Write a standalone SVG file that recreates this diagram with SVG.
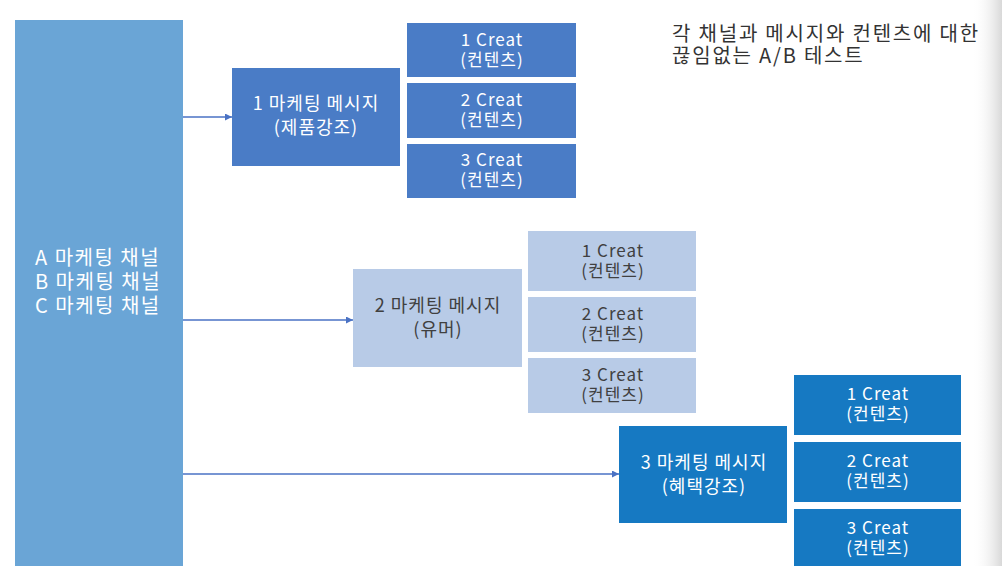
<svg xmlns="http://www.w3.org/2000/svg" width="1002" height="566" viewBox="0 0 1002 566">
  <defs>
    <marker id="arr" viewBox="0 0 10 10" refX="10" refY="5" markerWidth="7" markerHeight="7" markerUnits="userSpaceOnUse" orient="auto">
      <path d="M0,0 L10,5 L0,10 z" fill="#4a72c4"/>
    </marker>
    <linearGradient id="edge" x1="0" y1="0" x2="1" y2="0">
      <stop offset="0" stop-color="#ffffff" stop-opacity="0"/>
      <stop offset="1" stop-color="#d8d8d8"/>
    </linearGradient>
    <style>
      text { font-family: "Noto Sans CJK KR", "Noto Sans", sans-serif; text-anchor: middle; }
      .w { fill: #ffffff; }
      .d { fill: #404040; }
      .m { font-size: 18px; letter-spacing: 1px; }
      .c { font-size: 17px; letter-spacing: 1px; }
      .ch { font-size: 20px; letter-spacing: 1.5px; text-anchor: start; }
      .t { font-size: 20px; letter-spacing: 1.8px; text-anchor: start; fill: #333333; }
      .chan { fill: #6aa5d6; }
      .b1 { fill: #4a7cc6; }
      .b2 { fill: #b8cbe7; }
      .b3 { fill: #1679c2; }
      .conn { stroke: #4a72c4; stroke-width: 1.5; fill: none; marker-end: url(#arr); }
    </style>
  </defs>
  <rect width="1002" height="566" fill="#ffffff"/>
  <rect x="972" y="0" width="30" height="566" fill="url(#edge)"/>

  <g id="title">
    <text class="t" x="672" y="41">각 채널과 메시지와 컨텐츠에 대한</text>
    <text class="t" x="672" y="63">끊임없는 A/B 테스트</text>
  </g>

  <g id="channels">
    <rect class="chan" x="15" y="20" width="168" height="546"/>
    <text class="w ch" x="35" y="265">A 마케팅 채널</text>
    <text class="w ch" x="35" y="289">B 마케팅 채널</text>
    <text class="w ch" x="35" y="313">C 마케팅 채널</text>
  </g>

  <g id="connectors">
    <line class="conn" x1="183" y1="117" x2="232" y2="117"/>
    <line class="conn" x1="183" y1="320" x2="353" y2="320"/>
    <line class="conn" x1="183" y1="474" x2="619" y2="474"/>
  </g>

  <g id="msg1">
    <rect class="b1" x="232" y="68" width="168" height="98"/>
    <text class="w m" x="316" y="110">1 마케팅 메시지</text>
    <text class="w m" x="316" y="134">(제품강조)</text>
  </g>
  <g id="msg1-c1">
    <rect class="b1" x="407" y="23" width="169" height="54"/>
    <text class="w c" x="492" y="46">1 Creat</text>
    <text class="w c" x="492" y="66">(컨텐츠)</text>
  </g>
  <g id="msg1-c2">
    <rect class="b1" x="407" y="83" width="169" height="55"/>
    <text class="w c" x="492" y="106">2 Creat</text>
    <text class="w c" x="492" y="126">(컨텐츠)</text>
  </g>
  <g id="msg1-c3">
    <rect class="b1" x="407" y="144" width="169" height="54"/>
    <text class="w c" x="492" y="166">3 Creat</text>
    <text class="w c" x="492" y="186">(컨텐츠)</text>
  </g>

  <g id="msg2">
    <rect class="b2" x="353" y="269" width="169" height="98"/>
    <text class="d m" x="438" y="312">2 마케팅 메시지</text>
    <text class="d m" x="438" y="336">(유머)</text>
  </g>
  <g id="msg2-c1">
    <rect class="b2" x="528" y="231" width="168" height="60"/>
    <text class="d c" x="613" y="257">1 Creat</text>
    <text class="d c" x="613" y="277">(컨텐츠)</text>
  </g>
  <g id="msg2-c2">
    <rect class="b2" x="528" y="297" width="168" height="55"/>
    <text class="d c" x="613" y="320">2 Creat</text>
    <text class="d c" x="613" y="340">(컨텐츠)</text>
  </g>
  <g id="msg2-c3">
    <rect class="b2" x="528" y="358" width="168" height="55"/>
    <text class="d c" x="613" y="381">3 Creat</text>
    <text class="d c" x="613" y="401">(컨텐츠)</text>
  </g>

  <g id="msg3">
    <rect class="b3" x="619" y="426" width="168" height="97"/>
    <text class="w m" x="704" y="469">3 마케팅 메시지</text>
    <text class="w m" x="704" y="493">(혜택강조)</text>
  </g>
  <g id="msg3-c1">
    <rect class="b3" x="794" y="375" width="167" height="60"/>
    <text class="w c" x="878" y="400">1 Creat</text>
    <text class="w c" x="878" y="420">(컨텐츠)</text>
  </g>
  <g id="msg3-c2">
    <rect class="b3" x="794" y="442" width="167" height="60"/>
    <text class="w c" x="878" y="467">2 Creat</text>
    <text class="w c" x="878" y="487">(컨텐츠)</text>
  </g>
  <g id="msg3-c3">
    <rect class="b3" x="794" y="509" width="167" height="57"/>
    <text class="w c" x="878" y="534">3 Creat</text>
    <text class="w c" x="878" y="554">(컨텐츠)</text>
  </g>
</svg>
